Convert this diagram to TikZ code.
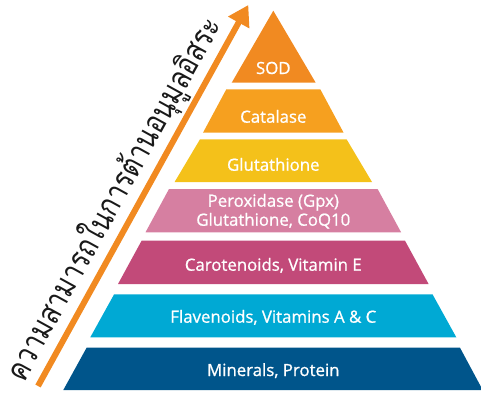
\documentclass[tikz,border=0pt]{standalone}
\usepackage{graphicx}
\usepackage{fontspec}
\setmainfont{Open Sans}
\newfontfamily\layerfont[FakeBold=0.9]{Open Sans}
\newfontfamily\thaifont[Script=Thai]{Loma}
\usetikzlibrary{arrows.meta}
\definecolor{cSOD}{HTML}{F18A21}
\definecolor{cCat}{HTML}{F6A01F}
\definecolor{cGlu}{HTML}{F4C11A}
\definecolor{cPer}{HTML}{D67FA1}
\definecolor{cCar}{HTML}{C24A79}
\definecolor{cFla}{HTML}{00A9D4}
\definecolor{cMin}{HTML}{00558B}
\definecolor{cArrow}{HTML}{F18A21}
\tikzset{
  layertext/.style={text=white, font=\layerfont\fontsize{16.8}{19}\selectfont, anchor=base, inner sep=0pt, align=center},
  thaitext/.style={text=black!90, font=\thaifont\fontsize{32}{34}\selectfont, inner sep=0pt},
  bigarrow/.style={draw=cArrow, line width=6pt, -{Triangle[length=20pt,width=23pt]}}
}
\begin{document}
\begin{tikzpicture}[x=1pt,y=-1pt]
\useasboundingbox (0,0) rectangle (481,394);
% layers
\fill[cSOD] (273.3,10.7) -- (315.7,82.7) -- (231.7,82.7) -- cycle;
\fill[cCat] (226.3,89.3) -- (320.3,89.3) -- (343.6,132.7) -- (203,132.7) -- cycle;
\fill[cGlu] (200,139.3) -- (346.6,139.3) -- (372,182) -- (174.6,182) -- cycle;
\fill[cPer] (169,189) -- (377.6,189) -- (401.1,232.3) -- (145.5,232.3) -- cycle;
\fill[cCar] (141.6,240.7) -- (405,240.7) -- (428.6,284) -- (118,284) -- cycle;
\fill[cFla] (114.1,294.3) -- (432.5,294.3) -- (456.3,337.3) -- (90.3,337.3) -- cycle;
\fill[cMin] (86.6,347.7) -- (460,347.7) -- (482.7,390) -- (63.3,390) -- cycle;
% labels
\node[layertext] (sod) at (273.3,74) {SOD};
\node[layertext] (cat) at (273.3,122.7) {Catalase};
\node[layertext] (glu) at (273.3,170.7) {Glutathione};
\node[layertext] (per1) at (273.3,206.7) {Peroxidase (Gpx)};
\node[layertext] (per2) at (273.3,225.7) {Glutathione, CoQ10};
\node[layertext] (car) at (273.3,270.7) {Carotenoids, Vitamin E};
\node[layertext] (fla) at (273.3,322.7) {Flavenoids, Vitamins A \& C};
\node[layertext] (min) at (273.3,376) {Minerals, Protein};
% arrow
\coordinate (tail) at (38,386);
\coordinate (tip) at (248.3,5);
\draw[bigarrow] (tail) -- (tip);
% thai text
\node[thaitext, rotate=61.1] (thai) at (114,199) {\scalebox{0.82}[1]{ความสามารถในการต้านอนุมูลอิสระ}};
\end{tikzpicture}
\end{document}
